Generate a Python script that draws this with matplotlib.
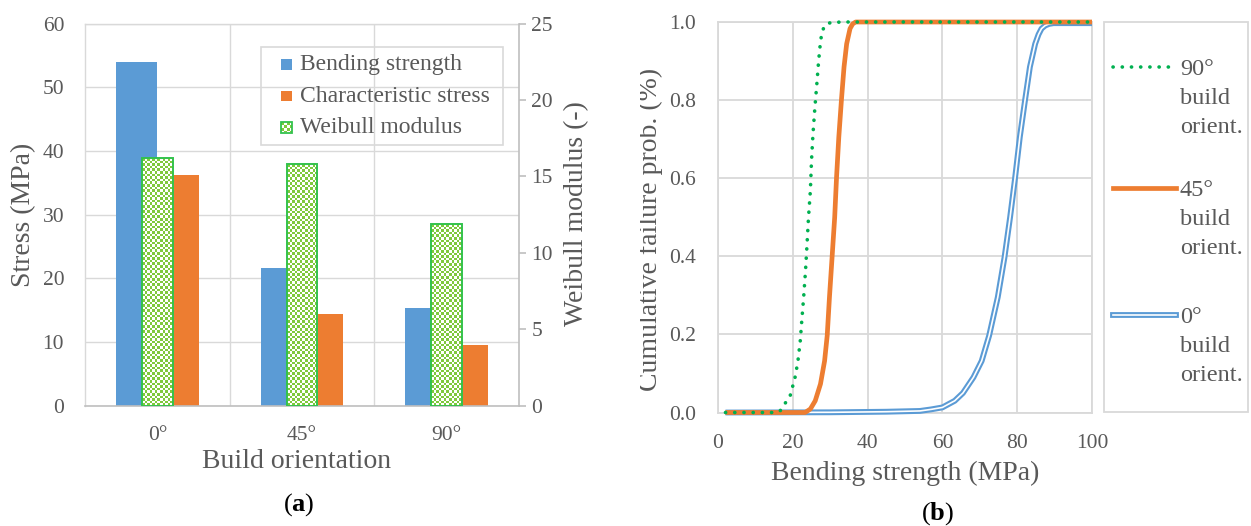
import numpy as np
import matplotlib
matplotlib.use('Agg')
import matplotlib.pyplot as plt
import matplotlib.transforms as mtransforms
import matplotlib.patheffects as pe
from matplotlib.patches import Rectangle
from matplotlib.lines import Line2D
from matplotlib.transforms import Bbox

# ---------------- data ----------------
orientations = ['0°', '45°', '90°']
bending_strength = [54.0, 21.7, 15.4]
characteristic_stress = [36.3, 14.4, 9.5]
weibull_modulus = [16.2, 15.8, 11.9]
bar_labels = ['Bending strength', 'Characteristic stress', 'Weibull modulus']

stress_90_x = [2, 15, 16.6, 19.3, 20.6, 21.35, 22.0, 22.4, 22.9, 23.4, 23.8, 24.2,
               24.7, 25.0, 25.4, 25.9, 26.5, 26.9, 27.4, 27.8, 28.4, 29.2, 30.5, 33.7, 100]
prob_90 = [0.0, 0.0, 0.004, 0.043, 0.09, 0.13, 0.184, 0.235, 0.295, 0.363, 0.43, 0.50,
           0.568, 0.645, 0.714, 0.78, 0.85, 0.90, 0.949, 0.974, 0.988, 0.996, 0.999, 1.0, 1.0]

stress_45_x = [2, 23.3, 24.7, 26.0, 27.4, 28.5, 29.2, 29.8, 30.5, 31.2, 31.7, 32.3,
               33.0, 33.7, 34.4, 35.3, 36.0, 36.8, 100]
prob_45 = [0.0, 0.0, 0.009, 0.03, 0.073, 0.132, 0.197, 0.295, 0.397, 0.50, 0.603, 0.705,
           0.80, 0.885, 0.944, 0.983, 0.995, 1.0, 1.0]

stress_0_x = [2, 30, 45, 54, 57, 60, 63.3, 65.5, 68.3, 70.5, 72.5, 74.8, 76.6, 78.1, 79.4,
              80.7, 82.1, 83.4, 84.8, 85.7, 86.5, 87.5, 88.5, 89.7, 100]
prob_0 = [0.0, 0.0005, 0.002, 0.004, 0.008, 0.013, 0.03, 0.05, 0.09, 0.132, 0.197, 0.295,
          0.397, 0.50, 0.598, 0.705, 0.80, 0.885, 0.944, 0.968, 0.983, 0.991, 0.995, 0.997, 0.997]

curve_labels = ['90°\nbuild\norient.', '45°\nbuild\norient.', '0°\nbuild\norient.']

# ---------------- styling ----------------
W, H = 1251, 526
FONT = 'Liberation Serif'
plt.rcParams['font.family'] = [FONT, 'DejaVu Serif']
plt.rcParams['mathtext.fontset'] = 'custom'
plt.rcParams['mathtext.rm'] = FONT
plt.rcParams['mathtext.bf'] = FONT + ':bold'

TXT = '#595959'
GRID = '#d9d9d9'
AXC = '#bfbfbf'
BLUE = '#5b9bd5'
ORANGE = '#ed7d31'
GREEN_EDGE = '#33c24d'
GREEN_CHK = '#7fc93c'
GREEN_DOT = '#00b050'
TICK_FS = 15.5
LAB_FS = 20
LEG_FS = 17

fig = plt.figure(figsize=(W / 100, H / 100), dpi=100)
PX = mtransforms.Affine2D().scale(1 / W, -1 / H).translate(0, 1) + fig.transFigure


def ax_rect(l, t, r, b):
    return [l / W, 1 - b / H, (r - l) / W, (b - t) / H]


def checker(nx, ny, rgb):
    ii, jj = np.meshgrid(np.arange(nx), np.arange(ny))
    m = ((ii + jj) % 2 == 0)
    arr = np.ones((ny, nx, 3))
    arr[m] = rgb
    return arr


green_rgb = np.array(matplotlib.colors.to_rgb(GREEN_CHK))

# ---------------- panel (a) ----------------
ax = fig.add_axes(ax_rect(85, 23.6, 519, 405.7))
x = np.arange(len(orientations))
bw = 0.286
ax.bar(x - bw / 2, bending_strength, bw, color=BLUE, zorder=2)
ax.bar(x + bw / 2, characteristic_stress, bw, color=ORANGE, zorder=2)
ax.set_xlim(-0.5, 2.5)
ax.set_ylim(0, 60)
ax.set_yticks(range(0, 61, 10))
ax.set_xticks(x)
ax.set_xticklabels(orientations)
ax.set_xticks([0.5, 1.5], minor=True)
ax.yaxis.grid(True, which='major', color=GRID, lw=1.0)
ax.xaxis.grid(True, which='minor', color=GRID, lw=1.0)
ax.set_axisbelow(True)
ax.tick_params(axis='both', which='both', length=0, labelsize=TICK_FS, labelcolor=TXT)
ax.tick_params(axis='y', pad=15)
ax.tick_params(axis='x', pad=14.5)
for s in ['left', 'top']:
    ax.spines[s].set_color(GRID)
    ax.spines[s].set_linewidth(1.0)
ax.spines['bottom'].set_color(AXC)
ax.spines['bottom'].set_linewidth(1.2)
ax.spines['right'].set_visible(False)

ax2 = ax.twinx()
ax2.set_ylim(0, 25)
ax2.set_yticks(range(0, 26, 5))
wbw = 0.214
wbars = ax2.bar(x, weibull_modulus, wbw, facecolor='none', edgecolor=GREEN_EDGE,
                linewidth=1.4, zorder=3)
for p in wbars.patches:
    x0, y0, w, h = p.get_x(), p.get_y(), p.get_width(), p.get_height()
    (px0, py0), (px1, py1) = ax2.transData.transform([(x0, y0), (x0 + w, y0 + h)])
    nx = max(1, int(round((px1 - px0) / 2.6)))
    ny = max(1, int(round((py1 - py0) / 2.6)))
    ax2.imshow(checker(nx, ny, green_rgb), extent=(x0, x0 + w, y0, y0 + h),
               aspect='auto', interpolation='nearest', zorder=2.5)
ax2.set_xlim(-0.5, 2.5)
ax2.set_ylim(0, 25)
for s in ['left', 'top', 'bottom']:
    ax2.spines[s].set_visible(False)
ax2.spines['right'].set_color(AXC)
ax2.spines['right'].set_linewidth(1.2)
ax2.tick_params(axis='y', length=5, width=1.2, color=AXC, pad=4,
                labelsize=TICK_FS, labelcolor=TXT)

fig.text(24, 215, 'Stress (MPa)', transform=PX, rotation=90, ha='center', va='center',
         fontsize=LAB_FS, color=TXT)
fig.text(577, 214, 'Weibull modulus (-)', transform=PX, rotation=90, ha='center',
         va='center', fontsize=LAB_FS, color=TXT)
fig.text(297, 461, 'Build orientation', transform=PX, ha='center', va='center',
         fontsize=LAB_FS, color=TXT)
fig.text(299, 505, r'($\mathbf{a}$)', transform=PX, ha='center', va='center',
         fontsize=19, color='black')

# legend (a)
fig.add_artist(Rectangle((261, 47), 242, 98, transform=PX, fill=False,
                         edgecolor=GRID, linewidth=1.2))
leg_rows = [59, 90.5, 122]
for lab, yy, col in zip(bar_labels, leg_rows, [BLUE, ORANGE, None]):
    if col is not None:
        fig.add_artist(Rectangle((281, yy), 11, 10.5, transform=PX,
                                 facecolor=col, edgecolor='none'))
    else:
        fig.figimage(np.repeat(np.repeat(checker(4, 4, green_rgb), 3, axis=0), 3, axis=1)[:10, :11],
                     xo=281, yo=H - (yy + 10.5), zorder=3)
        fig.add_artist(Rectangle((281, yy), 11, 10.5, transform=PX, fill=False,
                                 edgecolor=GREEN_EDGE, linewidth=1.3, zorder=4))
    fig.text(300, yy + 11, lab, transform=PX, ha='left', va='baseline',
             fontsize=LEG_FS, color=TXT)

# ---------------- panel (b) ----------------
axb = fig.add_axes(ax_rect(718, 22, 1092, 412.5))
axb.plot(stress_0_x, prob_0, color='white', lw=1.2, clip_on=False, zorder=3,
         solid_capstyle='butt', solid_joinstyle='round',
         path_effects=[pe.Stroke(linewidth=4.2, foreground=BLUE), pe.Normal()])
axb.plot(stress_45_x, prob_45, color=ORANGE, lw=3.4, clip_on=False, zorder=4,
         solid_capstyle='butt', solid_joinstyle='round')
axb.plot(stress_90_x, prob_90, color=GREEN_DOT, lw=2.6, clip_on=False, zorder=5,
         linestyle=(0, (0.05, 2.5)), dash_capstyle='round')
axb.set_xlim(0, 100)
axb.set_ylim(0, 1)
axb.set_xticks(range(0, 101, 20))
axb.set_yticks(np.arange(0, 1.01, 0.2))
axb.set_yticklabels([f'{v:.1f}' for v in np.arange(0, 1.01, 0.2)])
axb.grid(True, color=GRID, lw=1.3)
axb.set_axisbelow(True)
for s in axb.spines.values():
    s.set_color(GRID)
    s.set_linewidth(1.3)
axb.tick_params(axis='both', length=0, labelsize=TICK_FS, labelcolor=TXT)
axb.tick_params(axis='y', pad=16)
axb.tick_params(axis='x', pad=15.5)

t = fig.text(650, 229, 'Cumulative failure prob. (%)', transform=PX, rotation=90,
             ha='center', va='center', fontsize=LAB_FS, color=TXT)
t.set_clip_box(Bbox([[640, 0], [720, H]]))
t.set_clip_on(True)
fig.text(905, 473, 'Bending strength (MPa)', transform=PX, ha='center', va='center',
         fontsize=LAB_FS, color=TXT)
fig.text(938, 514, r'($\mathbf{b}$)', transform=PX, ha='center', va='center',
         fontsize=19, color='black')

# legend (b)
fig.add_artist(Rectangle((1104, 22), 144, 390, transform=PX, fill=False,
                         edgecolor=GRID, linewidth=1.3))
hy = [67, 188, 315]
fig.add_artist(Line2D([1113, 1176], [hy[0], hy[0]], transform=PX, color=GREEN_DOT,
                      lw=2.6, linestyle=(0, (0.05, 2.5)), dash_capstyle='round'))
fig.add_artist(Line2D([1113, 1176], [hy[1], hy[1]], transform=PX, color=ORANGE, lw=3.4))
fig.add_artist(Line2D([1113, 1176], [hy[2], hy[2]], transform=PX, color='white', lw=1.2,
                      path_effects=[pe.Stroke(linewidth=4.2, foreground=BLUE), pe.Normal()]))
for lab, yy in zip(curve_labels, hy):
    for i, line in enumerate(lab.split('\n')):
        fig.text(1180, yy + 8 + 29 * i, line, transform=PX, ha='left', va='baseline',
                 fontsize=LEG_FS + 0.5, color=TXT)

fig.savefig('out.png', dpi=100)
